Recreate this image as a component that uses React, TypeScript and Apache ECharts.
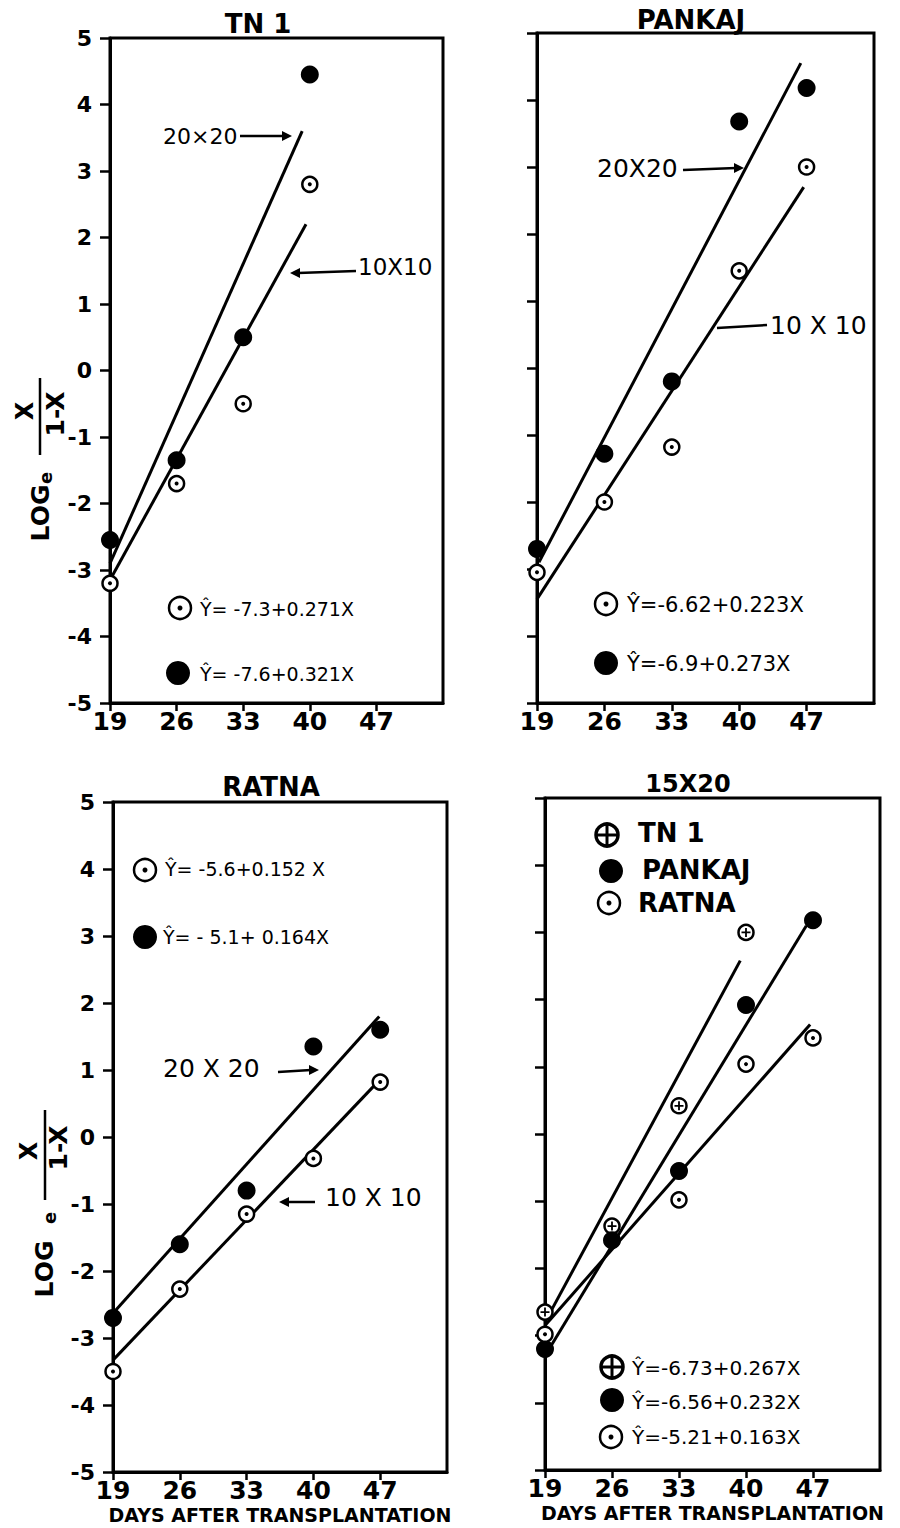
import React, { useEffect, useRef } from "react";
import * as echarts from "echarts";

// ---------- data ----------
const X_TICKS = [19, 26, 33, 40, 47];

// TN 1
const TN1_DAYS = [19, 26, 33, 40];
const TN1_20X20 = [-2.55, -1.35, 0.5, 4.45];
const TN1_10X10 = [-3.2, -1.7, -0.5, 2.8];
const TN1_FIT_20X20 = [[19, -2.9], [39.2, 3.6]];
const TN1_FIT_10X10 = [[19, -3.15], [39.6, 2.2]];

// PANKAJ
const PK_DAYS = [19, 26, 33, 40, 47];
const PK_20X20 = [-2.7, -1.28, -0.2, 3.68, 4.18];
const PK_10X10 = [-3.05, -2.0, -1.18, 1.45, 3.0];
const PK_FIT_20X20 = [[19.2, -2.9], [46.4, 4.55]];
const PK_FIT_10X10 = [[19, -3.45], [46.7, 2.7]];

// RATNA
const RT_DAYS = [19, 26, 33, 40, 47];
const RT_20X20 = [-2.7, -1.6, -0.8, 1.35, 1.6];
const RT_10X10 = [-3.5, -2.27, -1.15, -0.32, 0.82];
const RT_FIT_20X20 = [[19, -2.63], [46.9, 1.8]];
const RT_FIT_10X10 = [[19, -3.33], [46.6, 0.8]];

// 15X20
const S_TN1_DAYS = [19, 26, 33, 40];
const S_TN1 = [-2.65, -1.37, 0.42, 3.0];
const S_PK_DAYS = [19, 26, 33, 40, 47];
const S_PK = [-3.2, -1.58, -0.55, 1.92, 3.18];
const S_RT_DAYS = [19, 33, 40, 47];
const S_RT = [-2.98, -0.98, 1.04, 1.43];
const S_FIT_TN1 = [[19, -2.8], [39.4, 2.58]];
const S_FIT_PK = [[19, -3.3], [46.3, 3.1]];
const S_FIT_RT = [[19, -2.85], [46.7, 1.63]];

const TITLES = ["TN 1", "PANKAJ", "RATNA", "15X20"];
const X_NAME = "DAYS AFTER TRANSPLANTATION";

// ---------- helpers ----------
const FONT = "DejaVu Sans";
const BLACK = "#000";
const PLUS = "path://M0,4 L10,4 L10,6 L0,6 Z M4,0 L6,0 L6,10 L4,10 Z";

const zip = (xs: number[], ys: number[]) => xs.map((x, i) => [x, ys[i]]);

const fitLine = (g: number, data: number[][]) => ({
  type: "line",
  xAxisIndex: g,
  yAxisIndex: g,
  data,
  symbol: "none",
  lineStyle: { color: BLACK, width: 3 },
  z: 2,
  silent: true,
});

const filled = (g: number, xs: number[], ys: number[]) => ({
  type: "scatter",
  xAxisIndex: g,
  yAxisIndex: g,
  data: zip(xs, ys),
  symbol: "circle",
  symbolSize: 18,
  itemStyle: { color: BLACK, opacity: 1 },
  z: 3,
});

const ringed = (g: number, xs: number[], ys: number[], inner: "dot" | "plus") => [
  {
    type: "scatter",
    xAxisIndex: g,
    yAxisIndex: g,
    data: zip(xs, ys),
    symbol: "circle",
    symbolSize: 15,
    itemStyle: { color: "#fff", borderColor: BLACK, borderWidth: 2.5, opacity: 1 },
    z: 3,
  },
  {
    type: "scatter",
    xAxisIndex: g,
    yAxisIndex: g,
    data: zip(xs, ys),
    symbol: inner === "dot" ? "circle" : PLUS,
    symbolSize: inner === "dot" ? 4 : 9,
    itemStyle: { color: BLACK, opacity: 1 },
    z: 4,
  },
];

const GRIDS = [
  { left: 110, top: 38, width: 333, height: 665 },
  { left: 537, top: 33, width: 337, height: 670 },
  { left: 113, top: 802, width: 334, height: 670 },
  { left: 545, top: 798, width: 335, height: 672 },
];

const txt = (
  text: string,
  x: number,
  y: number,
  size: number,
  opts: { weight?: string; align?: string; rot?: boolean } = {}
) => ({
  type: "text",
  x,
  y,
  rotation: opts.rot ? Math.PI / 2 : 0,
  style: {
    text,
    x: 0,
    y: 0,
    fill: BLACK,
    fontSize: size,
    fontFamily: FONT,
    fontWeight: opts.weight || "normal",
    align: opts.align || "left",
    textAlign: opts.align || "left",
    verticalAlign: "middle",
    textVerticalAlign: "middle",
  },
});

const seg = (x1: number, y1: number, x2: number, y2: number, w = 2.5) => ({
  type: "line",
  shape: { x1, y1, x2, y2 },
  style: { stroke: BLACK, lineWidth: w },
});

const head = (x: number, y: number, dir: 1 | -1) => ({
  type: "polygon",
  shape: { points: [[x, y], [x - dir * 10, y - 5], [x - dir * 10, y + 5]] },
  style: { fill: BLACK },
});

const symDot = (cx: number, cy: number, r = 11) => [
  { type: "circle", shape: { cx, cy, r }, style: { fill: "#fff", stroke: BLACK, lineWidth: 2.5 } },
  { type: "circle", shape: { cx, cy, r: 2.5 }, style: { fill: BLACK } },
];
const symFill = (cx: number, cy: number, r = 12) => [
  { type: "circle", shape: { cx, cy, r }, style: { fill: BLACK } },
];
const symPlus = (cx: number, cy: number, r = 11) => [
  { type: "circle", shape: { cx, cy, r }, style: { fill: "#fff", stroke: BLACK, lineWidth: 3.5 } },
  seg(cx - r, cy, cx + r, cy, 3),
  seg(cx, cy - r, cx, cy + r, 3),
];

const yLabel = (
  logX: number, logY: number, eX: number, eY: number,
  barX: number, barY1: number, barY2: number,
  numX: number, numY: number, denX: number, denY: number
) => [
  txt("LOG", logX, logY, 25, { weight: "bold", align: "center", rot: true }),
  txt("e", eX, eY, 18, { weight: "bold", align: "center", rot: true }),
  seg(barX, barY1, barX, barY2, 2.5),
  txt("X", numX, numY, 24, { weight: "bold", align: "center", rot: true }),
  txt("1-X", denX, denY, 25, { weight: "bold", align: "center", rot: true }),
];

export default function App() {
  const ref = useRef<HTMLDivElement>(null);

  useEffect(() => {
    if (!ref.current) return;
    const chart = echarts.init(ref.current, null, { renderer: "svg" });

    const xAxes = GRIDS.map((_, i) => ({
      gridIndex: i,
      type: "value",
      min: 19,
      max: 54,
      name: i >= 2 ? X_NAME : "",
      nameLocation: "middle",
      nameGap: 33,
      nameTextStyle: { color: BLACK, fontSize: 19, fontWeight: "bold", fontFamily: FONT },
      axisLine: { show: true, onZero: false, lineStyle: { color: BLACK, width: 3 } },
      axisTick: {
        show: true,
        inside: false,
        length: 8,
        customValues: X_TICKS,
        lineStyle: { color: BLACK, width: 2.5 },
      },
      axisLabel: {
        customValues: X_TICKS,
        color: BLACK,
        fontSize: 25,
        fontWeight: "bold",
        fontFamily: FONT,
        margin: 6,
      },
      splitLine: { show: false },
    }));

    const yAxes = GRIDS.map((_, i) => ({
      gridIndex: i,
      type: "value",
      min: -5,
      max: 5,
      interval: 1,
      axisLine: { show: true, onZero: false, lineStyle: { color: BLACK, width: 3 } },
      axisTick: { show: true, inside: false, length: 10, lineStyle: { color: BLACK, width: 2.5 } },
      axisLabel: {
        show: i % 2 === 0,
        color: BLACK,
        fontSize: 22,
        fontWeight: "bold",
        fontFamily: FONT,
        margin: 18,
      },
      splitLine: { show: false },
    }));

    const series: any[] = [
      // TN 1
      fitLine(0, TN1_FIT_20X20),
      fitLine(0, TN1_FIT_10X10),
      filled(0, TN1_DAYS, TN1_20X20),
      ...ringed(0, TN1_DAYS, TN1_10X10, "dot"),
      // PANKAJ
      fitLine(1, PK_FIT_20X20),
      fitLine(1, PK_FIT_10X10),
      filled(1, PK_DAYS, PK_20X20),
      ...ringed(1, PK_DAYS, PK_10X10, "dot"),
      // RATNA
      fitLine(2, RT_FIT_20X20),
      fitLine(2, RT_FIT_10X10),
      filled(2, RT_DAYS, RT_20X20),
      ...ringed(2, RT_DAYS, RT_10X10, "dot"),
      // 15X20
      fitLine(3, S_FIT_TN1),
      fitLine(3, S_FIT_PK),
      fitLine(3, S_FIT_RT),
      ...ringed(3, S_TN1_DAYS, S_TN1, "plus"),
      filled(3, S_PK_DAYS, S_PK),
      ...ringed(3, S_RT_DAYS, S_RT, "dot"),
    ];

    const graphic: any[] = [
      // titles
      txt(TITLES[0], 258, 24, 26, { weight: "bold", align: "center" }),
      txt(TITLES[1], 691, 20, 26, { weight: "bold", align: "center" }),
      txt(TITLES[2], 271, 787, 26, { weight: "bold", align: "center" }),
      txt(TITLES[3], 688, 784, 24, { weight: "bold", align: "center" }),

      // y-axis names
      ...yLabel(40, 513, 45, 478, 40, 378, 455, 25, 411, 55, 414),
      ...yLabel(44, 1269, 49, 1218, 45, 1110, 1200, 29, 1151, 58, 1148),

      // TN 1 annotations
      txt("20×20", 163, 136, 22),
      seg(240, 136, 284, 136),
      head(292, 136, 1),
      txt("10X10", 358, 267, 23),
      seg(356, 271, 298, 273),
      head(290, 273, -1),
      ...symDot(180, 608),
      txt("Ŷ= -7.3+0.271X", 200, 609, 19),
      ...symFill(178, 673),
      txt("Ŷ= -7.6+0.321X", 200, 674, 19),

      // PANKAJ annotations
      txt("20X20", 597, 168, 25),
      seg(683, 170, 736, 168),
      head(744, 168, 1),
      txt("10 X 10", 770, 325, 25),
      seg(717, 328, 767, 325),
      ...symDot(606, 604),
      txt("Ŷ=-6.62+0.223X", 627, 605, 21),
      ...symFill(606, 663),
      txt("Ŷ=-6.9+0.273X", 627, 664, 21),

      // RATNA annotations
      ...symDot(145, 870),
      txt("Ŷ= -5.6+0.152 X", 165, 869, 19),
      ...symFill(145, 937),
      txt("Ŷ= - 5.1+ 0.164X", 163, 937, 19),
      txt("20 X 20", 163, 1068, 25),
      seg(278, 1072, 311, 1070),
      head(319, 1070, 1),
      txt("10 X 10", 325, 1197, 25),
      seg(315, 1202, 287, 1202),
      head(279, 1202, -1),

      // 15X20 legend + equations
      ...symPlus(607, 835),
      txt("TN 1", 638, 833, 26, { weight: "bold" }),
      ...symFill(611, 871),
      txt("PANKAJ", 642, 870, 26, { weight: "bold" }),
      ...symDot(609, 903),
      txt("RATNA", 638, 903, 26, { weight: "bold" }),
      ...symPlus(612, 1367),
      txt("Ŷ=-6.73+0.267X", 632, 1368, 20),
      ...symFill(612, 1400),
      txt("Ŷ=-6.56+0.232X", 632, 1402, 20),
      ...symDot(611, 1437),
      txt("Ŷ=-5.21+0.163X", 632, 1437, 20),
    ];

    chart.setOption({
      animation: false,
      backgroundColor: "#fff",
      grid: GRIDS.map((g) => ({
        ...g,
        show: true,
        borderColor: BLACK,
        borderWidth: 3,
        backgroundColor: "transparent",
        containLabel: false,
      })),
      xAxis: xAxes,
      yAxis: yAxes,
      series,
      graphic,
    });

    return () => chart.dispose();
  }, []);

  return (
    <div
      ref={ref}
      style={{ position: "absolute", left: 0, top: 0, width: 900, height: 1528 }}
    />
  );
}
